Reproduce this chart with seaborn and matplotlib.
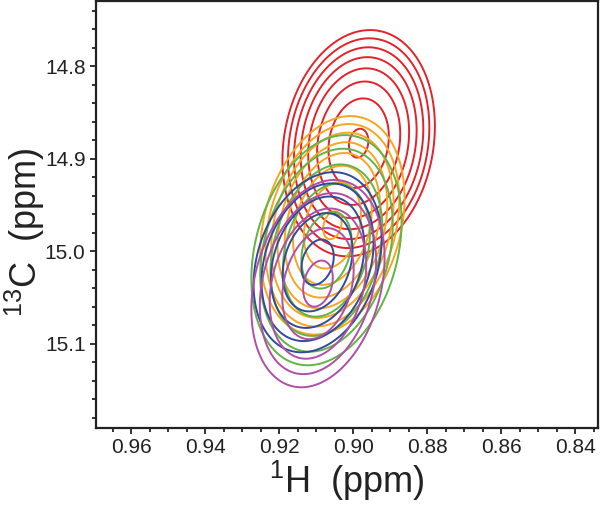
import matplotlib
matplotlib.use("Agg")
import matplotlib.pyplot as plt  # noqa: E402
from matplotlib.ticker import MultipleLocator  # noqa: E402
import numpy as np  # noqa: E402
import seaborn as sns  # noqa: E402

sns.set_theme(style="ticks")
plt.rcParams["font.family"] = ["Liberation Sans", "DejaVu Sans"]
plt.rcParams["mathtext.default"] = "regular"

# Peak parameters (ppm)
PEAK_NAMES = ["red", "orange", "green", "blue", "magenta"]
PEAK_COLORS = ["#e2232a", "#f8a51f", "#62b446", "#2f4b9c", "#b04ea8"]
CENTER_H = [0.8985, 0.9056, 0.9072, 0.9096, 0.9095]
CENTER_C = [14.8833, 14.9720, 14.9989, 15.0119, 15.0350]
HALF_H = [0.0206, 0.0195, 0.0203, 0.0173, 0.0180]   # half-width of lowest contour
HALF_C = [0.1222, 0.1180, 0.1243, 0.0973, 0.1120]   # half-height of lowest contour
CORR = [0.15, 0.25, 0.25, 0.25, 0.25]
HEIGHT = [4.15, 4.15, 2.46, 2.35, 2.32]              # peak height / lowest level

LEVEL_BASE = 1.0
LEVEL_FACTOR = 1.2214
N_LEVELS = 9

X_LIM = (0.9695, 0.8338)
Y_LIM = (15.191, 14.7297)
X_TICKS = [0.96, 0.94, 0.92, 0.90, 0.88, 0.86, 0.84]
Y_TICKS = [14.8, 14.9, 15.0, 15.1]

levels = LEVEL_BASE * LEVEL_FACTOR ** np.arange(N_LEVELS)

fig = plt.figure(figsize=(6.0, 5.07), dpi=100)
ax = fig.add_axes([0.16, 0.1558, 0.8367, 0.8422])

hh = np.linspace(X_LIM[1], X_LIM[0], 500)
cc = np.linspace(Y_LIM[1], Y_LIM[0], 500)
H, C = np.meshgrid(hh, cc)

for i, name in enumerate(PEAK_NAMES):
    amp = HEIGHT[i]
    scale = np.sqrt(2 * np.log(amp / LEVEL_BASE))
    sx = HALF_H[i] / scale
    sy = HALF_C[i] / scale
    rho = CORR[i]
    u = (H - CENTER_H[i]) / sx
    v = (C - CENTER_C[i]) / sy
    q = (u**2 - 2 * rho * u * v + v**2) / (1 - rho**2)
    z = amp * np.exp(-0.5 * q)
    lv = levels[levels < amp]
    ax.contour(H, C, z, levels=lv, colors=PEAK_COLORS[i], linewidths=1.4)

ax.set_xlim(*X_LIM)
ax.set_ylim(*Y_LIM)
ax.set_xticks(X_TICKS)
ax.set_xticklabels([f"{t:.2f}" for t in X_TICKS])
ax.set_yticks(Y_TICKS)
ax.set_yticklabels([f"{t:.1f}" for t in Y_TICKS])
ax.xaxis.set_minor_locator(MultipleLocator(0.005))
ax.yaxis.set_minor_locator(MultipleLocator(0.02))
ax.tick_params(which="both", direction="out", top=False, right=False,
               labelsize=15, colors="#222222", width=1.3)
ax.tick_params(which="major", length=4)
ax.tick_params(which="minor", length=3)
for sp in ax.spines.values():
    sp.set_visible(True)
    sp.set_linewidth(1.6)
    sp.set_color("#222222")

ax.set_xlabel(r"$^{1}$H  (ppm)", fontsize=26, labelpad=1, color="#222222")
ax.set_ylabel(r"$^{13}$C  (ppm)", fontsize=26, color="#222222")
ax.yaxis.set_label_coords(-0.097, 0.46)

fig.savefig("out.png", dpi=100)
